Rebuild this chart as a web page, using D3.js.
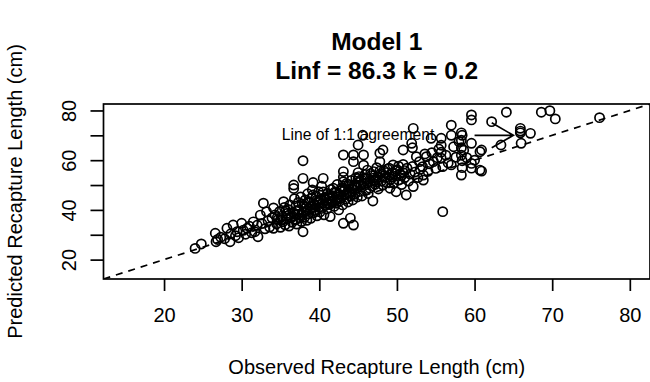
<!DOCTYPE html>
<html>
<head>
<meta charset="utf-8">
<script src="https://cdn.jsdelivr.net/npm/d3@7"></script>
<style>
  body { margin: 0; background: #fff; }
  text { font-family: "Liberation Sans", Arial, Helvetica, sans-serif; }
</style>
</head>
<body>
<div id="chart"></div>
<script>
// Observed vs predicted recapture length (cm)
const observed = [
  24.0,24.8,26.6,26.7,26.9,27.3,27.8,28.1,28.5,28.6,28.9,29.2,29.4,29.6,30.0,30.2,30.5,30.7,31.0,31.3,
  31.5,31.7,32.0,32.1,32.4,32.6,32.8,33.0,33.2,33.4,33.6,33.9,34.1,34.1,34.3,34.5,34.7,34.9,35.0,35.2,
  35.3,35.4,35.5,35.6,35.8,35.9,36.0,36.1,36.2,36.3,36.5,36.6,36.7,36.7,36.8,36.9,37.0,37.1,37.2,37.3,
  37.4,37.5,37.6,37.7,37.8,37.9,37.9,37.9,38.0,38.1,38.2,38.3,38.4,38.5,38.6,38.7,38.8,38.9,39.0,39.1,
  39.2,39.2,39.3,39.4,39.5,39.6,39.7,39.8,39.9,40.0,40.1,40.2,40.3,40.4,40.5,40.5,40.6,40.7,40.8,40.9,
  41.0,41.1,41.2,41.3,41.4,41.5,41.6,41.7,41.8,41.9,42.0,42.1,42.2,42.3,42.4,42.5,42.6,42.7,42.8,42.9,
  43.0,43.1,43.1,43.1,43.1,43.1,43.2,43.3,43.4,43.5,43.6,43.7,43.8,43.9,44.0,44.0,44.1,44.2,44.3,44.4,
  44.4,44.4,44.5,44.6,44.7,44.8,44.9,45.0,45.0,45.0,45.1,45.2,45.3,45.4,45.5,45.6,45.7,45.7,45.8,45.9,
  46.0,46.1,46.2,46.3,46.5,46.6,46.7,46.8,46.9,47.0,47.1,47.2,47.4,47.5,47.6,47.8,47.8,47.9,48.0,48.2,
  48.2,48.3,48.5,48.7,48.8,49.0,49.1,49.2,49.4,49.5,49.6,49.8,49.9,50.0,50.2,50.4,50.6,50.8,50.8,50.8,
  51.0,51.2,51.3,51.5,51.7,51.9,52.0,52.0,52.1,52.1,52.3,52.5,52.7,52.9,53.0,53.3,53.4,53.4,53.6,53.8,
  54.0,54.2,54.4,54.5,54.7,55.0,55.2,55.4,55.7,55.7,55.7,55.7,55.9,55.9,56.3,56.6,57.0,57.0,57.0,57.3,
  57.6,58.0,58.3,58.3,58.3,58.3,58.3,58.4,58.4,58.4,58.6,59.0,59.6,59.6,59.6,59.6,59.6,60.0,60.7,60.7,
  60.9,60.9,62.2,63.4,64.1,65.9,65.9,65.9,66.0,67.2,68.6,69.7,70.4,76.1,
  34.6,35.1,35.7,36.0,36.4,36.8,37.0,37.3,37.7,38.0,38.3,38.6,39.0,39.4,39.7,40.0,40.3,40.6,41.0,41.3,
  41.7,42.0,42.3,42.6,43.0,43.4,43.8,44.2,44.6,45.0,45.4,45.8,46.2,46.6,47.0,47.4,47.8,48.2,48.6,49.0,
  49.4,49.8,50.2,50.6,51.0
];
const predicted = [
  24.5,26.3,30.6,27.2,28.1,29.0,28.4,32.6,27.2,30.4,33.9,29.6,31.2,28.8,34.6,31.8,30.2,32.6,33.4,30.8,
  35.2,31.2,33.8,29.2,37.9,34.5,42.7,32.4,39.3,35.6,33.1,36.8,32.6,40.8,38.0,34.4,36.2,39.4,33.0,37.5,
  35.2,43.3,41.0,34.0,38.6,36.4,40.2,33.5,42.0,37.2,35.0,39.0,48.6,50.0,44.5,36.0,41.6,34.3,38.2,43.0,
  40.0,36.8,45.2,35.3,42.4,31.2,52.7,59.8,39.1,37.0,44.0,41.2,35.8,46.5,38.4,42.8,40.5,36.6,44.8,48.0,
  46.0,51.0,38.9,42.0,40.1,45.5,37.6,43.4,47.3,41.0,39.2,44.2,49.5,42.6,52.7,47.2,38.0,45.0,41.8,43.9,
  40.4,46.6,44.6,42.2,37.3,48.2,43.0,45.7,48.7,41.4,44.0,46.9,42.7,50.2,45.1,40.0,43.5,47.6,44.8,49.0,
  42.0,62.1,55.4,53.2,51.3,34.6,45.9,48.2,44.3,50.6,46.8,43.2,49.4,47.0,36.7,45.5,51.8,48.5,44.0,33.9,
  62.1,59.4,50.0,46.4,53.0,48.9,45.2,66.1,51.0,55.0,53.4,47.4,49.8,52.2,45.6,70.0,62.1,58.0,50.6,54.2,
  48.0,52.6,56.0,46.6,48.7,51.4,53.8,49.6,43.6,55.4,52.0,50.3,57.0,53.1,48.4,62.8,59.4,54.6,51.6,64.1,
  50.0,55.8,53.0,51.0,56.5,54.0,48.7,52.3,55.0,58.1,50.7,53.6,47.3,56.2,52.0,54.6,50.2,64.1,58.3,55.0,
  53.0,46.0,56.8,51.6,54.4,66.8,65.0,57.5,72.8,49.4,55.2,61.4,53.0,59.4,56.4,57.4,54.0,52.0,62.5,61.4,
  55.5,58.5,68.8,63.0,59.4,56.7,61.0,64.5,68.8,66.0,63.2,60.8,57.4,39.3,62.0,58.9,74.1,70.0,58.1,65.4,
  61.2,67.5,71.0,68.0,65.0,62.0,54.0,70.0,59.8,57.0,64.0,61.0,78.2,76.2,66.8,58.7,56.8,60.0,63.4,56.0,
  64.1,55.6,75.5,66.1,79.3,72.8,71.7,71.0,66.8,70.8,79.3,79.9,76.6,77.1,
  37.0,35.8,39.6,37.8,36.9,38.5,36.2,39.8,38.0,41.5,39.6,43.2,41.8,39.4,44.0,43.0,40.6,44.6,42.6,45.8,
  43.6,47.2,44.2,46.2,48.6,46.4,50.2,47.2,49.4,52.6,50.2,52.8,50.8,54.6,52.8,51.2,55.6,53.6,55.0,56.8,
  53.2,55.6,57.6,53.8,55.8
];

const axisLimits = [12.2, 82.6];
const xTicks = [20, 30, 40, 50, 60, 70, 80];
const yTicks = [20, 30, 40, 50, 60, 70, 80];
const yTickLabels = ["20", "", "40", "", "60", "", "80"];
const titleLines = ["Model 1", "Linf = 86.3 k = 0.2"];
const xTitle = "Observed Recapture Length (cm)";
const yTitle = "Predicted Recapture Length (cm)";
const noteText = "Line of 1:1 agreement";
const notePos = [45.0, 70.0];
const arrowFrom = [60.0, 70.0], arrowTo = [65.0, 70.0];

const data = observed.map((o, i) => ({obs: o, pred: predicted[i]}));

const width = 650, height = 382;
const plot = {left: 103.5, right: 650, top: 104, bottom: 279};
const lw = 1.7;

const svg = d3.select("#chart").append("svg")
    .attr("width", width)
    .attr("height", height);

svg.append("rect").attr("width", width).attr("height", height).attr("fill", "#fff");

const x = d3.scaleLinear().domain(axisLimits).range([plot.left, plot.right]);
const y = d3.scaleLinear().domain(axisLimits).range([plot.bottom, plot.top]);

// points
svg.append("g")
  .selectAll("circle")
  .data(data)
  .enter().append("circle")
    .attr("cx", d => x(d.obs))
    .attr("cy", d => y(d.pred))
    .attr("r", 4.6)
    .attr("fill", "none")
    .attr("stroke", "#000")
    .attr("stroke-width", lw);

// 1:1 line, clipped to the plot region
svg.append("clipPath").attr("id", "clip")
  .append("rect")
    .attr("x", plot.left).attr("y", plot.top)
    .attr("width", plot.right - plot.left).attr("height", plot.bottom - plot.top);

svg.append("line")
    .attr("clip-path", "url(#clip)")
    .attr("x1", x(axisLimits[0])).attr("y1", y(axisLimits[0]))
    .attr("x2", x(axisLimits[1])).attr("y2", y(axisLimits[1]))
    .attr("stroke", "#000")
    .attr("stroke-width", lw)
    .attr("stroke-dasharray", "7,6");

// annotation + arrow
svg.append("text")
    .attr("x", x(notePos[0]))
    .attr("y", y(notePos[1]) + 4.5)
    .attr("text-anchor", "middle")
    .style("font-size", "15.7px")
    .text(noteText);

const ax1 = x(arrowFrom[0]), ax2 = x(arrowTo[0]), ay = y(arrowTo[1]);
const barb = 25, ang = Math.PI / 6;
svg.append("path")
    .attr("d", `M${ax1},${ay}L${ax2},${ay}` +
               `M${ax2 - barb * Math.cos(ang)},${ay - barb * Math.sin(ang)}L${ax2},${ay}` +
               `L${ax2 - barb * Math.cos(ang)},${ay + barb * Math.sin(ang)}`)
    .attr("fill", "none")
    .attr("stroke", "#000")
    .attr("stroke-width", lw);

// box
svg.append("rect")
    .attr("x", plot.left).attr("y", plot.top)
    .attr("width", plot.right - plot.left).attr("height", plot.bottom - plot.top)
    .attr("fill", "none")
    .attr("stroke", "#000")
    .attr("stroke-width", lw);

// x axis
const gx = svg.append("g")
    .attr("transform", `translate(0,${plot.bottom})`)
    .call(d3.axisBottom(x).tickValues(xTicks).tickSize(12).tickSizeOuter(0));
gx.select(".domain").remove();
gx.selectAll(".tick line").attr("stroke-width", lw);
gx.selectAll(".tick text")
    .attr("y", 29).attr("dy", "0.71em")
    .style("font-size", "20px").attr("fill", "#000");

// y axis
const gy = svg.append("g")
    .attr("transform", `translate(${plot.left},0)`)
    .call(d3.axisLeft(y).tickValues(yTicks).tickSize(13).tickSizeOuter(0)
      .tickFormat((d, i) => yTickLabels[i]));
gy.select(".domain").remove();
gy.selectAll(".tick line").attr("stroke-width", lw);
gy.selectAll(".tick text")
    .attr("transform", "rotate(-90)")
    .attr("x", 0).attr("y", -28).attr("dy", 0)
    .attr("text-anchor", "middle")
    .style("font-size", "20px").attr("fill", "#000");

// titles
const cx = (plot.left + plot.right) / 2;
svg.selectAll(".title")
  .data(titleLines)
  .enter().append("text")
    .attr("class", "title")
    .attr("x", cx)
    .attr("y", (d, i) => 50 + i * 29)
    .attr("text-anchor", "middle")
    .style("font-size", "24.5px")
    .style("font-weight", "bold")
    .text(d => d);

svg.append("text")
    .attr("x", cx).attr("y", 374)
    .attr("text-anchor", "middle")
    .style("font-size", "20px")
    .text(xTitle);

svg.append("text")
    .attr("transform", `translate(22,${(plot.top + plot.bottom) / 2}) rotate(-90)`)
    .attr("text-anchor", "middle")
    .style("font-size", "20px")
    .text(yTitle);
</script>
</body>
</html>
